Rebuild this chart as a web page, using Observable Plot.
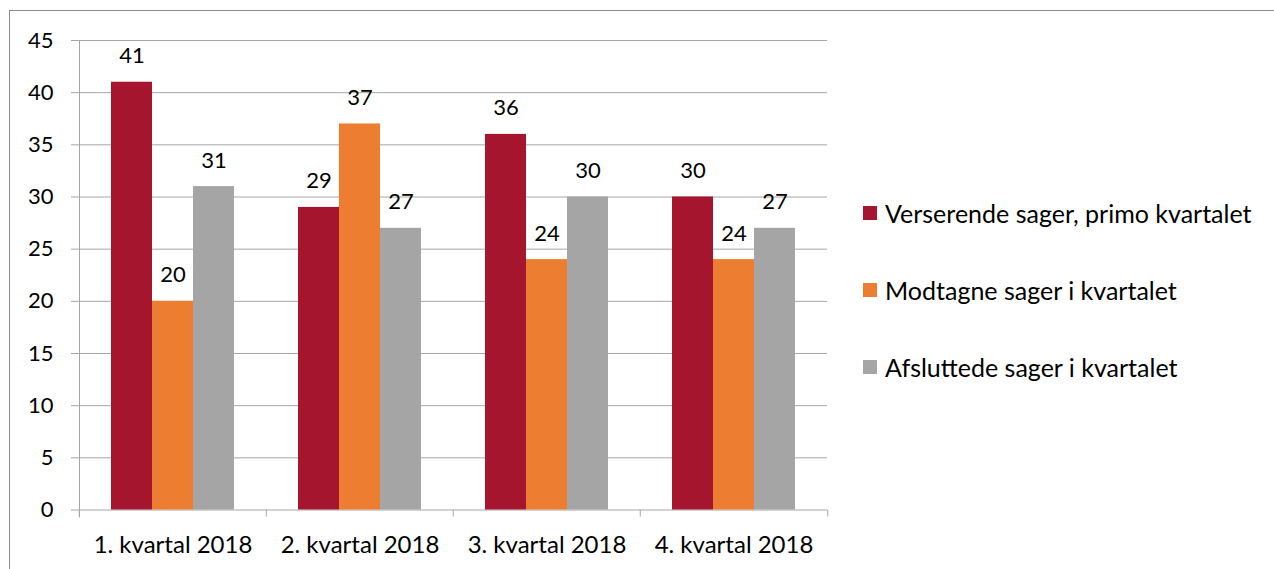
<!DOCTYPE html>
<html><head><meta charset="utf-8">
<script src="https://cdn.jsdelivr.net/npm/d3@7"></script>
<script src="https://cdn.jsdelivr.net/npm/@observablehq/plot@0.6"></script>
<style>
body{margin:0;background:#fff;font-family:Lato,"Noto Sans",sans-serif;}
#wrap{position:relative;width:1274px;height:569px;overflow:hidden;}
#border{position:absolute;left:9px;top:10px;width:1400px;height:700px;border-left:1.5px solid #8c8c8c;border-top:1.5px solid #8c8c8c;pointer-events:none;}
#chart{position:absolute;left:0;top:0;}
.item{position:absolute;left:863px;display:flex;align-items:center;font-size:25px;color:#000;white-space:nowrap;height:30px;}
.sw{width:14px;height:14px;margin-right:8px;flex:none;}
</style>
</head><body>
<div id="wrap"><div id="chart"></div><div id="border"></div><div id="legend"></div></div>
<script>
const quarters = ["1. kvartal 2018","2. kvartal 2018","3. kvartal 2018","4. kvartal 2018"];
const seriesNames = ["Verserende sager, primo kvartalet","Modtagne sager i kvartalet","Afsluttede sager i kvartalet"];
const verserende = [41,29,36,30];
const modtagne = [20,37,24,24];
const afsluttede = [31,27,30,27];
const yTicks = [0,5,10,15,20,25,30,35,40,45];
const colors = ["#A6152E","#ED7D31","#A5A5A5"];

const seriesValues = [verserende, modtagne, afsluttede];
const rows = [];
quarters.forEach((q,i)=>seriesNames.forEach((s,j)=>rows.push({quarter:q, series:s, value:seriesValues[j][i]})));

const W = 1274, H = 569, mL = 78, mR = 446, mT = 40, mB = 59.5;
const half = (W - mL - mR) / quarters.length / 2;
const gridColor = "#a6a6a6";

const chart = Plot.plot({
  width: W, height: H,
  marginLeft: mL, marginRight: mR, marginTop: mT, marginBottom: mB,
  style: {fontFamily: "Lato, 'Noto Sans', sans-serif", color: "#000", background: "transparent"},
  fx: {domain: quarters, padding: 0, label: null, axis: null},
  x: {domain: seriesNames, paddingInner: 0, paddingOuter: 0.75, axis: null},
  y: {domain: [0,45], label: null, axis: null},
  color: {domain: seriesNames, range: colors},
  marks: [
    Plot.gridY(yTicks, {stroke: gridColor, strokeOpacity: 1, strokeWidth: 1}),
    Plot.frame({anchor: "left", facetAnchor: "left", stroke: gridColor, insetBottom: -7}),
    Plot.axisFx({anchor: "bottom", tickSize: 7, dx: -half, stroke: gridColor, tickFormat: () => "", label: null}),
    Plot.axisFx({anchor: "bottom", ticks: [quarters[quarters.length-1]], tickSize: 7, dx: half, stroke: gridColor, tickFormat: () => "", label: null}),
    Plot.axisFx({anchor: "bottom", tickSize: 0, tickPadding: 26, fontSize: 24, fill: "#000", label: null}),
    Plot.axisY(yTicks, {tickSize: 8, tickPadding: 18, fontSize: 22, stroke: gridColor, fill: "#000", label: null}),
    Plot.barY(rows, {fx: "quarter", x: "series", y: "value", fill: "series"}),
    Plot.text(rows, {fx: "quarter", x: "series", y: "value", text: d => String(d.value), dy: -26, fontSize: 22, fill: "#000"})
  ]
});
document.getElementById("chart").appendChild(chart);

const legend = document.getElementById("legend");
const legendY = [213, 290, 367];
seriesNames.forEach((s,i)=>{
  const el = document.createElement("div");
  el.className = "item";
  el.style.top = (legendY[i] - 15) + "px";
  el.innerHTML = `<span class="sw" style="background:${colors[i]}"></span><span>${s}</span>`;
  legend.appendChild(el);
});
</script>
</body></html>
